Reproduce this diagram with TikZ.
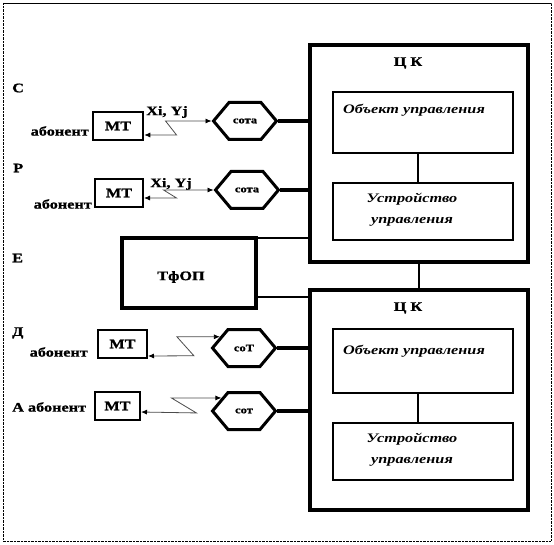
\documentclass[tikz,border=0pt]{standalone}
\usepackage{fontspec}
\setmainfont[FakeStretch=1.25,BoldFeatures={FakeBold=1.2}]{Liberation Serif}
\usepackage{tikz}
\usetikzlibrary{shapes.symbols,arrows.meta}

\tikzset{
	ck/.style={draw,line width=4pt,minimum width=218pt,inner sep=0pt},
	belso/.style={draw,line width=2pt,minimum width=180pt,inner sep=0pt},
	mt/.style={draw,line width=2pt,minimum height=28pt,inner sep=0pt,font=\fontsize{13}{14}\selectfont\bfseries},
	sota/.style={draw,line width=3pt,signal,signal to=east and west,signal pointer angle=100,
		minimum width=63pt,minimum height=37pt,inner sep=0pt,font=\fontsize{10}{11}\selectfont\bfseries},
	cimke/.style={font=\fontsize{13}{14}\selectfont\bfseries,inner sep=0pt},
	dolt/.style={font=\fontsize{13}{21}\selectfont\bfseries\itshape,inner sep=0pt},
	vastag/.style={line width=4pt},
	zeg/.style={black!70,line width=0.8pt,{Latex[length=6pt,width=5pt,black]}-{Latex[length=6pt,width=5pt,black]}}
}

\begin{document}
\begin{tikzpicture}[x=1pt,y=-1pt]
	\useasboundingbox (0,0) rectangle (554,545);
	% keret
	\draw[densely dotted,thin] (3,3) rectangle (551,541);
	\draw[thin] (3,3) -- (551,3);
	
	% felso CK
	\node[ck,minimum height=217pt] (ckA) at (419,153.5) {};
	\node[cimke] (ckAt) at (408,63) {Ц К};
	\node[belso,minimum height=61pt] (objA) at (423,122.5) {};
	\node[belso,minimum height=57pt] (ustrA) at (423,211.5) {};
	\node[dolt,anchor=west] (objAt) at (343,110) {Объект управления};
	\node[dolt,align=center] (ustrAt) at (412,210) {Устройство\\управления};
	\draw[line width=1.2pt] ([xshift=-5pt]objA.south) -- ([xshift=-5pt]ustrA.north);
	
	% also CK
	\node[ck,minimum height=220pt] (ckB) at (419,400) {};
	\node[cimke] (ckBt) at (408,308) {Ц К};
	\node[belso,minimum height=64pt] (objB) at (423,361) {};
	\node[belso,minimum height=57pt] (ustrB) at (423,451.5) {};
	\node[dolt,anchor=west] (objBt) at (343,351) {Объект управления};
	\node[dolt,align=center] (ustrBt) at (412,450) {Устройство\\управления};
	\draw[line width=1.2pt] ([xshift=-5pt]objB.south) -- ([xshift=-5pt]ustrB.north);
	\draw[line width=1.5pt] (ckA.south) -- (ckB.north);
	
	% TfOP
	\node[draw,line width=4pt,minimum width=134pt,minimum height=70pt,inner sep=0pt] (tfop) at (189,273) {};
	\node[cimke] (tfopt) at (181,277) {ТфОП};
	\draw[line width=2.5pt] ([yshift=-2pt]tfop.north east) -- ([yshift=-2pt]tfop.north east -| ckA.west);
	\draw[line width=2.5pt] ([yshift=13pt]tfop.south east) -- ([yshift=13pt]tfop.south east -| ckB.west);
	
	% betuk
	\node[cimke,anchor=west] (lC) at (12,88) {С};
	\node[cimke,anchor=west] (lP) at (13,168) {Р};
	\node[cimke,anchor=west] (lE) at (12,258) {Е};
	\node[cimke,anchor=west] (lD) at (12,333) {Д};
	
	% C sor
	\node[mt,minimum width=50pt,line width=2.5pt] (mtC) at (118,126) {МТ};
	\node[cimke,anchor=east] (abC) at (89,131) {абонент};
	\node[sota] (hexC) at (245,121) {сота};
	\node[cimke] (xyC) at (167,112) {Xi, Yj};
	\draw[vastag] (hexC.east) -- (hexC.east -| ckA.west);
	\draw[zeg] (hexC.west) -- ++(-46,0) -- ++(11,14) -- ([yshift=-9pt]mtC.east);
	
	% P sor
	\node[mt,minimum width=48pt] (mtP) at (119,193) {МТ};
	\node[cimke,anchor=east] (abP) at (92,204) {абонент};
	\node[sota] (hexP) at (247,190) {сота};
	\node[cimke] (xyP) at (171,184) {Xi, Yj};
	\draw[vastag] (hexP.east) -- (hexP.east -| ckA.west);
	\draw[zeg] (hexP.west) -- ++(-50,0) -- ++(13,8) -- ([yshift=-5pt]mtP.east);
	
	% D sor
	\node[mt,minimum width=49pt] (mtD) at (122.5,344) {МТ};
	\node[cimke,anchor=east] (abD) at (88,352) {абонент};
	\node[sota] (hexD) at (244,348) {соТ};
	\draw[vastag] (hexD.east) -- (hexD.east -| ckB.west);
	\draw[zeg] (hexD.155) -- ++(-43,0) -- ++(17,19) -- ([yshift=-12pt]mtD.east);
	
	% A sor
	\node[mt,minimum width=45pt] (mtA) at (117.5,406) {МТ};
	\node[cimke,anchor=west] (abA) at (12,407) {А абонент};
	\node[sota] (hexA) at (244,411) {сот};
	\draw[vastag] (hexA.east) -- (hexA.east -| ckB.west);
	\draw[zeg] (hexA.150) -- ++(-50,0) -- ++(25,15) -- ([yshift=-6pt]mtA.east);
\end{tikzpicture}
\end{document}
